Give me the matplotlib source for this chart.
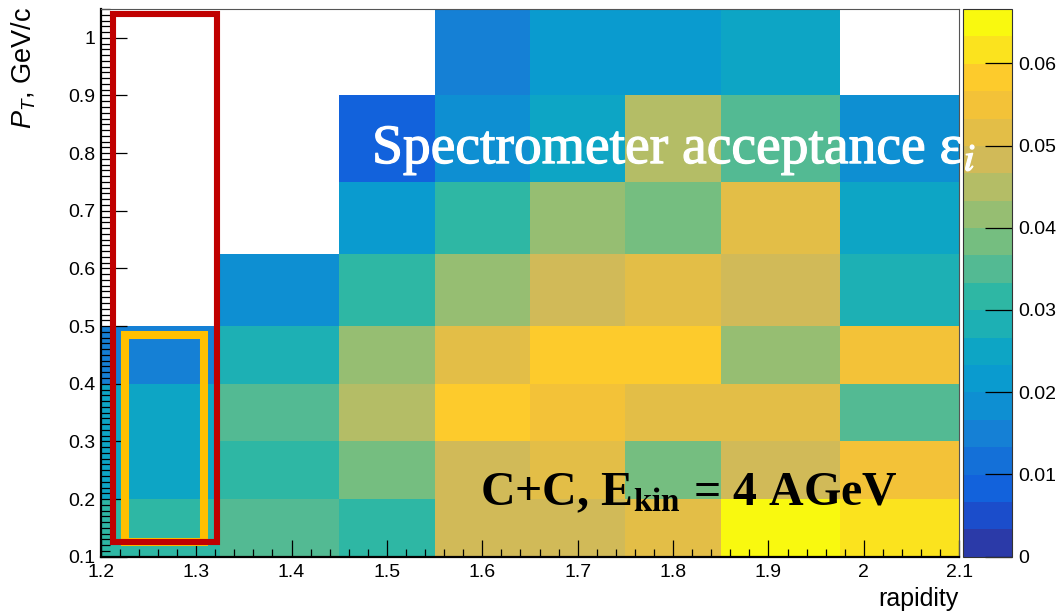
import numpy as np
import matplotlib
matplotlib.use("Agg")
import matplotlib.pyplot as plt
import matplotlib.patheffects as pe
from matplotlib.colors import ListedColormap, BoundaryNorm
from matplotlib.patches import Rectangle
from matplotlib.ticker import AutoMinorLocator

# binning
rapidity_edges = [1.2, 1.325, 1.45, 1.55, 1.65, 1.75, 1.85, 1.975, 2.1]
pt_edges = [0.1, 0.2, 0.3, 0.4, 0.5, 0.625, 0.75, 0.9, 1.05]

nan = np.nan
# acceptance per (pT bin, rapidity bin), lowest pT first
acc_pt1 = [0.0316, 0.0350, 0.0316, 0.0483, 0.0483, 0.0516, 0.0655, 0.0616]
acc_pt2 = [0.0250, 0.0316, 0.0383, 0.0483, 0.0516, 0.0383, 0.0483, 0.0550]
acc_pt3 = [0.0250, 0.0350, 0.0450, 0.0583, 0.0550, 0.0516, 0.0516, 0.0350]
acc_pt4 = [0.0150, 0.0283, 0.0416, 0.0516, 0.0583, 0.0583, 0.0416, 0.0550]
acc_pt5 = [nan, 0.0183, 0.0316, 0.0416, 0.0483, 0.0516, 0.0483, 0.0283]
acc_pt6 = [nan, nan, 0.0217, 0.0316, 0.0416, 0.0383, 0.0516, 0.0250]
acc_pt7 = [nan, nan, 0.0083, 0.0183, 0.0250, 0.0450, 0.0350, 0.0183]
acc_pt8 = [nan, nan, nan, 0.0150, 0.0217, 0.0217, 0.0250, nan]

z_max = 0.0666
n_levels = 20

x_ticks = [1.2, 1.3, 1.4, 1.5, 1.6, 1.7, 1.8, 1.9, 2.0, 2.1]
y_ticks = [0.1, 0.2, 0.3, 0.4, 0.5, 0.6, 0.7, 0.8, 0.9, 1.0]
z_ticks = [0, 0.01, 0.02, 0.03, 0.04, 0.05, 0.06]

# ROOT kBird palette, 20 contours
bird = ["#2b3aa8", "#1b4dcb", "#1262dc", "#1470d8", "#1580d5",
        "#0e8fd2", "#0a9bcf", "#0da5c5", "#1db0b4", "#2eb7a4",
        "#53ba93", "#75be80", "#96be72", "#b4bd66", "#d1ba58",
        "#e3be47", "#f3c238", "#fdcb2c", "#fbe31e", "#f9f90f"]

plt.rcParams['font.family'] = ['Liberation Sans', 'DejaVu Sans']
plt.rcParams['mathtext.fontset'] = 'custom'
plt.rcParams['mathtext.rm'] = 'Liberation Sans'
plt.rcParams['mathtext.it'] = 'Liberation Sans:italic'
plt.rcParams['mathtext.bf'] = 'Liberation Sans:bold'

W, H = 1063, 615
fig = plt.figure(figsize=(W / 100, H / 100), dpi=100)
ax = fig.add_axes([100.7 / W, 1 - 556.7 / H, 858.6 / W, 547.7 / H])
cax = fig.add_axes([963 / W, 1 - 556.7 / H, 49.3 / W, 547.7 / H])
ax.set_zorder(3)  # labels may run over the palette axis

acc = np.ma.masked_invalid(np.array([acc_pt1, acc_pt2, acc_pt3, acc_pt4,
                                     acc_pt5, acc_pt6, acc_pt7, acc_pt8]))
levels = np.linspace(0, z_max, n_levels + 1)
cmap = ListedColormap(bird)
norm = BoundaryNorm(levels, n_levels)
mesh = ax.pcolormesh(rapidity_edges, pt_edges, acc, cmap=cmap, norm=norm)

ax.set_xlim(1.2, 2.1)
ax.set_ylim(0.1, 1.05)
ax.set_xticks(x_ticks)
ax.set_xticklabels([f"{v:g}" for v in x_ticks])
ax.set_yticks(y_ticks)
ax.set_yticklabels([f"{v:g}" for v in y_ticks])
ax.xaxis.set_minor_locator(AutoMinorLocator(5))
ax.yaxis.set_minor_locator(AutoMinorLocator(10))
ax.tick_params(axis='x', which='major', direction='in', length=12.2, width=0.9,
               labelsize=14, pad=5)
ax.tick_params(axis='x', which='minor', direction='in', length=5.8, width=0.9)
ax.tick_params(axis='y', which='major', direction='in', length=18.7, width=0.9,
               labelsize=14, pad=4)
ax.tick_params(axis='y', which='minor', direction='in', length=6.5, width=0.9)
for side in ['left', 'bottom']:
    ax.spines[side].set_linewidth(1.6)
for side in ['top', 'right']:
    ax.spines[side].set_linewidth(0.8)
    ax.spines[side].set_color('#555555')

cb = fig.colorbar(mesh, cax=cax, ticks=z_ticks)
cb.ax.set_yticklabels([f"{v:g}" for v in z_ticks])
cb.ax.tick_params(direction='in', length=19.4, width=0.9, labelsize=14, pad=4)
cb.ax.minorticks_off()
cb.outline.set_linewidth(0.8)
cb.outline.set_edgecolor('#333333')

# axis titles, ROOT style
fig.text(24 / W, 1 - 7 / H, r"$P_{T}$, GeV/c", rotation=90, ha='center',
         va='top', fontsize=19.5)
fig.text(958 / W, 1 - 606 / H, "rapidity", ha='right', va='baseline',
         fontsize=18)

# selected bins
ax.add_patch(Rectangle((1.2255, 0.1255), 1.3085 - 1.2255, 0.4844 - 0.1255,
                       fill=False, edgecolor='#ffc000', linewidth=5.8,
                       joinstyle='miter', clip_on=False, zorder=3))
ax.add_patch(Rectangle((1.2124, 0.1258), 1.3214 - 1.2124, 1.0412 - 0.1258,
                       fill=False, edgecolor='#c00000', linewidth=4.4,
                       joinstyle='miter', clip_on=False, zorder=4))

ax.text(1.4844, 0.782, "Spectrometer acceptance ε$_{i}$", color='white',
        fontsize=40, family=['Liberation Serif', 'DejaVu Serif'],
        math_fontfamily='stix', ha='left', va='baseline', zorder=5,
        path_effects=[pe.withStroke(linewidth=0.9, foreground='white')])
ax.text(1.5976, 0.1897, r"C+C, E$_{\mathbf{kin}}$ = 4 AGeV", color='black',
        fontsize=34.5, fontweight='bold', family=['Liberation Serif', 'DejaVu Serif'],
        math_fontfamily='stix', ha='left', va='baseline', zorder=5)

fig.savefig("out.png", dpi=100)
